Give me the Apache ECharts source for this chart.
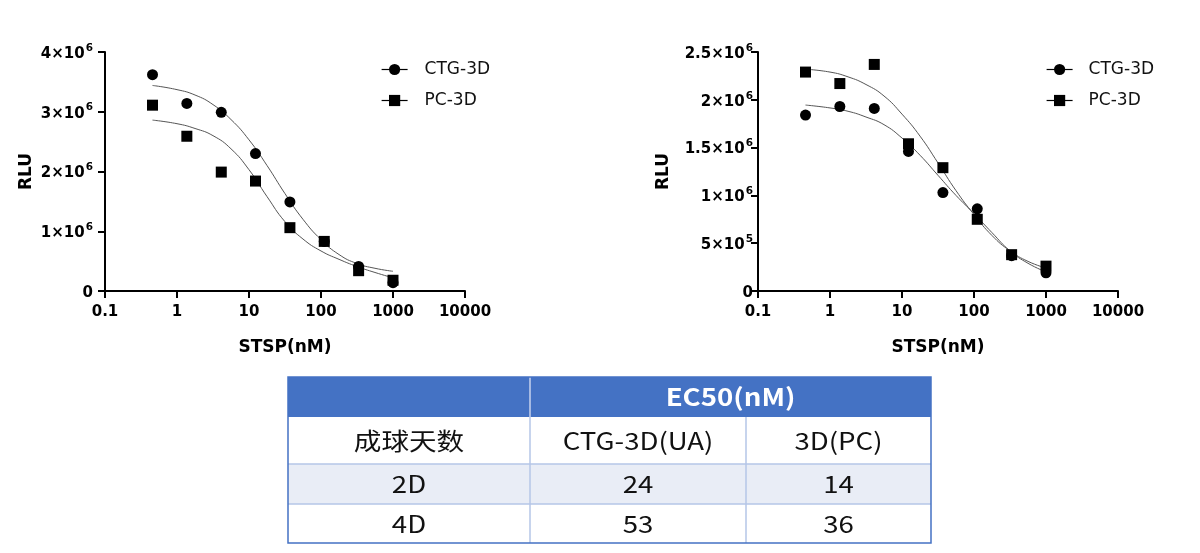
<!DOCTYPE html>
<html>
<head>
<meta charset="utf-8">
<script src="https://cdn.jsdelivr.net/npm/echarts@6/dist/echarts.min.js"></script>
<style>
  html, body { margin: 0; padding: 0; background: #fff; }
  #main { width: 1200px; height: 553px; }
</style>
</head>
<body>
<div id="main"></div>
<script>
// doses (nM) of the measured points
var doses = [0.457, 1.37, 4.12, 12.3, 37, 111, 333, 1000];
// RLU values, in units of 10^6
var ctg2D = [3.62, 3.14, 2.99, 2.30, 1.49, 0.83, 0.41, 0.14];
var pc2D  = [3.11, 2.59, 1.99, 1.84, 1.06, 0.83, 0.34, 0.18];
var ctg4D = [1.84, 1.93, 1.91, 1.46, 1.03, 0.86, 0.37, 0.19];
var pc4D  = [2.29, 2.17, 2.37, 1.54, 1.29, 0.75, 0.38, 0.26];

// fitted curves (x in nM)
var fitX     = [0.457, 1, 1.78, 3.16, 5.62, 10, 17.8, 31.6, 56.2, 100, 178, 316, 562, 1000];
var ctgFit2D = [3.44, 3.37, 3.28, 3.12, 2.87, 2.53, 2.10, 1.63, 1.20, 0.86, 0.61, 0.46, 0.38, 0.33];
var pcFit2D  = [2.86, 2.80, 2.72, 2.60, 2.38, 2.03, 1.58, 1.16, 0.87, 0.67, 0.53, 0.41, 0.31, 0.22];
var ctgFit4D = [1.945, 1.915, 1.88, 1.82, 1.74, 1.60, 1.42, 1.21, 1.00, 0.81, 0.61, 0.42, 0.29, 0.20];
var pcFit4D  = [2.32, 2.29, 2.24, 2.16, 2.04, 1.85, 1.62, 1.34, 1.05, 0.80, 0.58, 0.42, 0.31, 0.24];

var seriesNames = ['CTG-3D', 'PC-3D'];

// table
var tableTitle = 'EC50(nM)';
var tableHead = ['成球天数', 'CTG-3D(UA)', '3D(PC)'];
var tableRows = [['2D', '24', '14'], ['4D', '53', '36']];

var chart = echarts.init(document.getElementById('main'));
var FONT = 'DejaVu Sans';

function pairs(xs, ys) {
    return xs.map(function (x, i) { return [x, ys[i] * 1e6]; });
}

function yLabel(v) {
    if (v === 0) return '{m|0}';
    var e = Math.floor(Math.log10(v) + 1e-9);
    var m = parseFloat((v / Math.pow(10, e)).toPrecision(3));
    return '{m|' + m + '×10}{s|' + e + '}';
}

function xAxisOf(idx) {
    return {
        gridIndex: idx,
        type: 'log',
        logBase: 10,
        min: 0.1,
        max: 10000,
        name: 'STSP(nM)',
        nameLocation: 'middle',
        nameGap: 48,
        nameTextStyle: { fontFamily: FONT, fontWeight: 'bold', fontSize: 17, color: '#000' },
        axisLine: { lineStyle: { color: '#000', width: 2 } },
        axisTick: { length: 7, lineStyle: { color: '#000', width: 2 } },
        minorTick: { show: false },
        splitLine: { show: false },
        axisLabel: {
            margin: 14,
            fontFamily: FONT, fontWeight: 'bold', fontSize: 15, color: '#000',
            formatter: function (v) { return String(parseFloat(v.toPrecision(6))); }
        }
    };
}

function yAxisOf(idx, max, interval, gap, margin) {
    return {
        gridIndex: idx,
        type: 'value',
        min: 0,
        max: max,
        interval: interval,
        name: 'RLU',
        nameLocation: 'middle',
        nameGap: gap,
        nameRotate: 90,
        nameTextStyle: { fontFamily: FONT, fontWeight: 'bold', fontSize: 17, color: '#000' },
        axisLine: { show: true, lineStyle: { color: '#000', width: 2 } },
        axisTick: { show: true, length: 7, lineStyle: { color: '#000', width: 2 } },
        splitLine: { show: false },
        axisLabel: {
            margin: margin,
            formatter: yLabel,
            rich: {
                m: { fontFamily: FONT, fontWeight: 'bold', fontSize: 15, color: '#000', lineHeight: 19, verticalAlign: 'bottom' },
                s: { fontFamily: FONT, fontWeight: 'bold', fontSize: 10.5, color: '#000', lineHeight: 19, verticalAlign: 'top', padding: [0, 0, 0, 1] }
            }
        }
    };
}

function pointSeries(name, idx, ys, symbol) {
    return {
        name: name,
        type: 'line',
        xAxisIndex: idx,
        yAxisIndex: idx,
        data: pairs(doses, ys),
        symbol: symbol,
        symbolSize: 11,
        showAllSymbol: true,
        itemStyle: { color: '#000' },
        lineStyle: { opacity: 0 },
        z: 5
    };
}

function fitSeries(idx, ys) {
    return {
        name: 'fit',
        type: 'line',
        xAxisIndex: idx,
        yAxisIndex: idx,
        data: pairs(fitX, ys),
        showSymbol: false,
        smooth: 0.5,
        silent: true,
        lineStyle: { color: '#555', width: 1 },
        z: 2
    };
}

function legendOf(left, pad) {
    return {
        left: left,
        top: 56,
        orient: 'vertical',
        itemWidth: 26,
        itemHeight: 14,
        itemGap: 14,
        data: seriesNames,
        selectedMode: false,
        lineStyle: { color: '#000', width: 1.2, opacity: 1 },
        textStyle: { fontFamily: FONT, fontSize: 17, color: '#111', padding: [0, 0, 0, pad] }
    };
}

// table drawn with graphic elements
var tX = 288, tY = 377;
var colW = [242, 216, 185];
var rowH = [40, 47, 40, 39];
var tableW = colW[0] + colW[1] + colW[2];
var tableH = rowH[0] + rowH[1] + rowH[2] + rowH[3];
var blue = '#4472C4', gridLine = '#B4C6E7';
var colX = [tX, tX + colW[0], tX + colW[0] + colW[1], tX + tableW];
var rowY = [tY];
rowH.forEach(function (h, i) { rowY.push(rowY[i] + h); });

var g = [];
g.push({ type: 'rect', shape: { x: tX, y: rowY[0], width: tableW, height: rowH[0] }, style: { fill: blue } });
g.push({ type: 'rect', shape: { x: tX, y: rowY[2], width: tableW, height: rowH[2] }, style: { fill: '#E9EDF6' } });
// inner lines
g.push({ type: 'line', shape: { x1: colX[1], y1: rowY[0], x2: colX[1], y2: rowY[1] }, style: { stroke: '#C7D3EE', lineWidth: 1.5 } });
[1, 2].forEach(function (c) {
    g.push({ type: 'line', shape: { x1: colX[c], y1: rowY[1], x2: colX[c], y2: rowY[4] }, style: { stroke: gridLine, lineWidth: 1.5 } });
});
[2, 3].forEach(function (r) {
    g.push({ type: 'line', shape: { x1: tX, y1: rowY[r], x2: tX + tableW, y2: rowY[r] }, style: { stroke: gridLine, lineWidth: 1.5 } });
});
g.push({ type: 'rect', shape: { x: tX, y: tY, width: tableW, height: tableH }, style: { fill: 'none', stroke: blue, lineWidth: 1.5 } });

function cellText(txt, cx, cy, bold, color) {
    return {
        type: 'text', x: cx, y: cy, scaleX: 1.15, z: 10,
        style: {
            text: txt, align: 'center', verticalAlign: 'middle',
            font: (bold ? 'bold ' : '') + '24px "Noto Sans CJK SC", "Noto Sans", sans-serif',
            fill: color
        }
    };
}
g.push(cellText(tableTitle, (colX[1] + colX[3]) / 2, rowY[0] + rowH[0] / 2, true, '#fff'));
tableHead.forEach(function (t, c) {
    g.push(cellText(t, (colX[c] + colX[c + 1]) / 2, rowY[1] + rowH[1] / 2, false, '#111'));
});
tableRows.forEach(function (row, r) {
    row.forEach(function (t, c) {
        g.push(cellText(t, (colX[c] + colX[c + 1]) / 2, rowY[r + 2] + rowH[r + 2] / 2, false, '#111'));
    });
});

chart.setOption({
    animation: false,
    backgroundColor: '#fff',
    grid: [
        { left: 105, top: 52, width: 360, height: 239 },
        { left: 758, top: 52, width: 360, height: 239 }
    ],
    legend: [legendOf(376, 12), legendOf(1041, 11)],
    xAxis: [xAxisOf(0), xAxisOf(1)],
    yAxis: [yAxisOf(0, 4e6, 1e6, 70, 12), yAxisOf(1, 2.5e6, 5e5, 86, 5)],
    series: [
        fitSeries(0, ctgFit2D),
        fitSeries(0, pcFit2D),
        pointSeries(seriesNames[0], 0, ctg2D, 'circle'),
        pointSeries(seriesNames[1], 0, pc2D, 'rect'),
        fitSeries(1, ctgFit4D),
        fitSeries(1, pcFit4D),
        pointSeries(seriesNames[0], 1, ctg4D, 'circle'),
        pointSeries(seriesNames[1], 1, pc4D, 'rect')
    ],
    graphic: g
});
</script>
</body>
</html>
